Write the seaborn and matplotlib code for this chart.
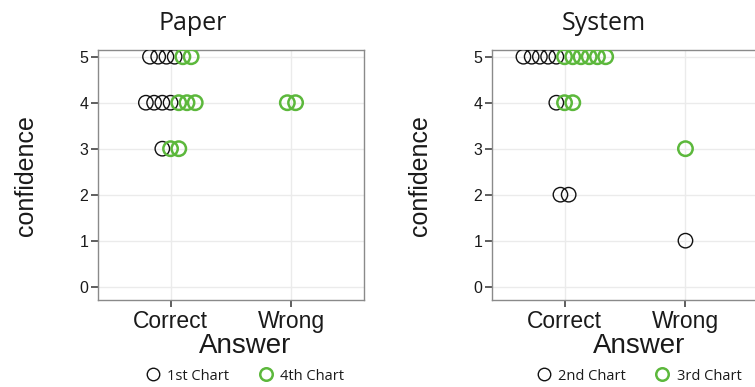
import numpy as np
import pandas as pd
import matplotlib
matplotlib.use("Agg")
import matplotlib.pyplot as plt
import seaborn as sns
from matplotlib.lines import Line2D

# ---- data -------------------------------------------------------------
answers = ["Correct", "Wrong"]
conf_ticks = [0, 1, 2, 3, 4, 5]

paper_answer = ["Correct", "Correct", "Correct", "Correct", "Correct", "Correct", "Wrong"]
paper_conf = [5, 5, 4, 4, 3, 3, 4]
paper_chart = ["1st Chart", "4th Chart", "1st Chart", "4th Chart", "1st Chart", "4th Chart", "4th Chart"]
paper_count = [4, 2, 4, 3, 1, 2, 2]
paper_series = ["1st Chart", "4th Chart"]

system_answer = ["Correct", "Correct", "Correct", "Correct", "Correct", "Wrong", "Wrong"]
system_conf = [5, 5, 4, 4, 2, 3, 1]
system_chart = ["2nd Chart", "3rd Chart", "2nd Chart", "3rd Chart", "2nd Chart", "3rd Chart", "2nd Chart"]
system_count = [5, 6, 1, 2, 2, 1, 1]
system_series = ["2nd Chart", "3rd Chart"]

# ---- style ------------------------------------------------------------
BLACK = "#111111"
GREEN = "#5cb83c"
STEP = 0.068          # horizontal spacing between stacked circles (category units)
TEXT = "#1a1a1a"

sns.set_style("whitegrid", {"grid.color": "#ebebeb", "axes.edgecolor": "#8a8a8a"})
plt.rcParams["font.family"] = ["Liberation Sans", "DejaVu Sans"]
plt.rcParams["text.color"] = TEXT
plt.rcParams["axes.labelcolor"] = TEXT


def stack_points(answer, conf, chart, count, series):
    """Expand counts into individual points and lay them side by side,
    ordered by series, centred on the answer category."""
    df = pd.DataFrame({"answer": answer, "confidence": conf,
                       "chart": chart, "n": count})
    df = df.loc[df.index.repeat(df["n"])].drop(columns="n")
    df["order"] = df["chart"].map({s: i for i, s in enumerate(series)})
    df = df.sort_values(["answer", "confidence", "order"], kind="stable")
    df["rank"] = df.groupby(["answer", "confidence"]).cumcount()
    df["size"] = df.groupby(["answer", "confidence"])["rank"].transform("count")
    df["xpos"] = (df["answer"].map({a: i for i, a in enumerate(answers)})
                  + (df["rank"] - (df["size"] - 1) / 2) * STEP)
    return df


fig = plt.figure(figsize=(7.55, 3.87), dpi=100)

panels = [
    ("Paper", paper_answer, paper_conf, paper_chart, paper_count, paper_series,
     98, 193),
    ("System", system_answer, system_conf, system_chart, system_count, system_series,
     492, 604),
]

W, H = 755.0, 387.0
for title, a, c, ch, n, series, left_px, title_px in panels:
    ax = fig.add_axes([left_px / W, 1 - 300 / H, 266 / W, 250 / H])
    df = stack_points(a, c, ch, n, series)
    styles = {series[0]: (BLACK, 1.0), series[1]: (GREEN, 1.8)}
    for s in series:
        col, lw = styles[s]
        sns.scatterplot(data=df[df["chart"] == s], x="xpos", y="confidence",
                        ax=ax, marker="o", s=108, facecolor="none",
                        edgecolor=col, linewidth=lw, legend=False, zorder=3)

    ax.set_xlim(-0.6, 1.6)
    ax.set_ylim(-0.29, 5.146)
    ax.set_xticks(range(len(answers)))
    ax.set_xticklabels(answers, fontsize=16.5)
    ax.set_yticks(conf_ticks)
    ax.set_yticklabels([str(v) for v in conf_ticks], fontsize=11.5)
    ax.tick_params(axis="both", bottom=True, left=True, length=5, width=1.1,
                   direction="out", pad=2, color="#333333", labelcolor=TEXT)
    ax.grid(True, color="#ebebeb", linewidth=1.0)
    for sp in ax.spines.values():
        sp.set_color("#8a8a8a")
        sp.set_linewidth(1.0)

    ax.set_xlabel("Answer", fontsize=20)
    ax.xaxis.label.set_va("baseline")
    ax.xaxis.set_label_coords((245 - 98) / 266, (300 - 353) / 250)
    ax.set_ylabel("confidence", fontsize=18)
    ax.yaxis.label.set_va("center")
    ax.yaxis.set_label_coords((26 - 98) / 266, (300 - 176) / 250)

    fig.text(title_px / W, 1 - 30 / H, title, ha="center", va="baseline",
             fontsize=18, family=["Open Sans", "DejaVu Sans"], color=TEXT)

    handles = [Line2D([], [], marker="o", ls="none", mfc="none",
                      mec=styles[s][0], mew=styles[s][1], ms=9) for s in series]
    legend_cx = left_px + 147
    fig.legend(handles, series, loc="center",
               bbox_to_anchor=(legend_cx / W, 1 - 376 / H),
               ncol=2, frameon=False, handlelength=1.0,
               handletextpad=0.5, columnspacing=2.0,
               prop={"family": ["Open Sans", "DejaVu Sans"], "size": 10.5})

fig.savefig("out.png", dpi=100, facecolor="white")
